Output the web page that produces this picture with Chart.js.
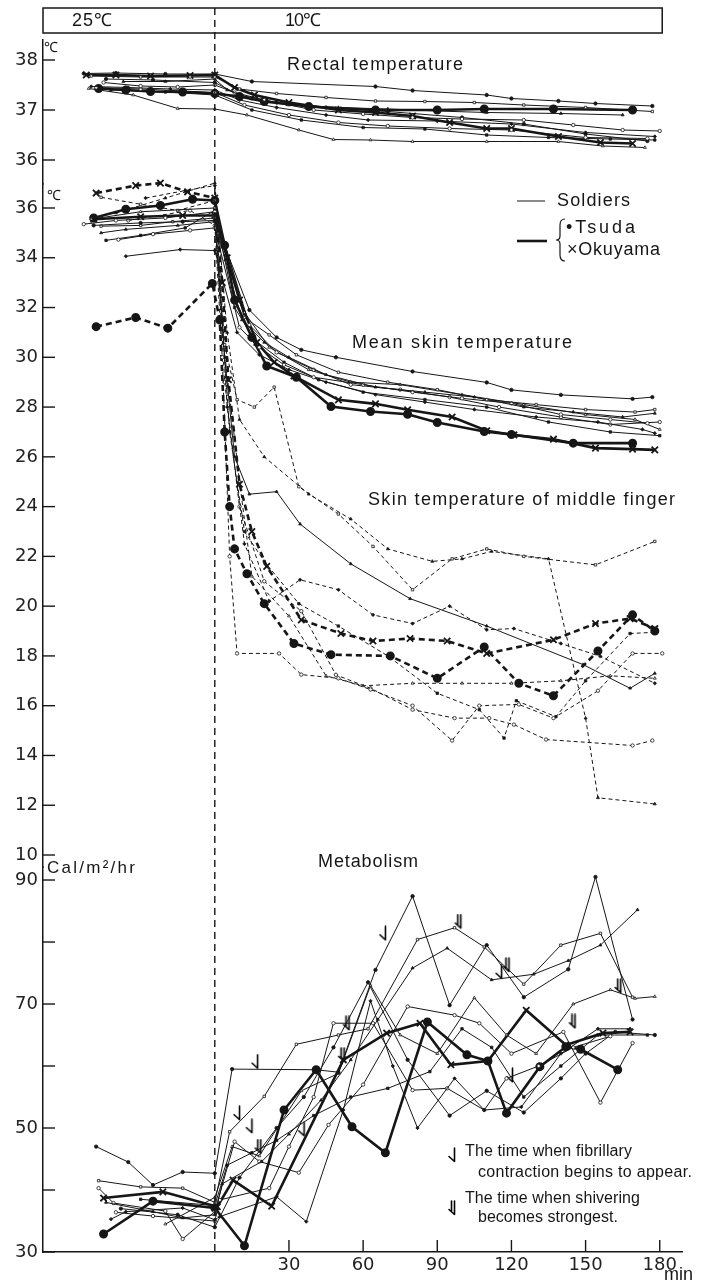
<!DOCTYPE html>
<html>
<head>
<meta charset="utf-8">
<script src="https://cdn.jsdelivr.net/npm/chart.js@4.4.1/dist/chart.umd.min.js"></script>
<style>
  html, body { margin: 0; padding: 0; background: #fff; }
  #wrap { width: 703px; height: 1284px; }
</style>
</head>
<body>
<div id="wrap"><canvas id="chart" width="703" height="1284"></canvas></div>
<script>
// x range in minutes, 0 = move from 25°C to 10°C room
var X_MIN = -69.5, X_MAX = 189;
var BOX_END = 181;

// tick values
var xTicks = [30, 60, 90, 120, 150, 180];
var rectalTicks = [36, 37, 38];
var skinTicks = [10, 12, 14, 16, 18, 20, 22, 24, 26, 28, 30, 32, 34, 36];
var metabTicks = [30, 40, 50, 60, 70, 80, 90];
var metabLabelled = [30, 50, 70, 90];

// ---- rectal temperature [min, °C]
var rectalTsuda = [[-47,37.43],[-36,37.40],[-26,37.37],[-13,37.36],[0,37.33],[10,37.27],[20,37.17],[38,37.07],[65,37.0],[90,37.0],[109,37.02],[137,37.02],[169,37.0]];
var rectalOkuyama = [[-52,37.70],[-40,37.70],[-26,37.68],[-10,37.69],[0,37.70],[8,37.45],[16,37.30],[30,37.15],[50,37.0],[65,36.95],[80,36.88],[95,36.75],[110,36.63],[120,36.63],[139,36.47],[156,36.35],[169,36.33]];
var rectalSoldiers = [
  [[-53,37.73],[-40,37.74],[-20,37.72],[0,37.72],[15,37.57],[65,37.47],[80,37.39],[110,37.30],[120,37.23],[139,37.18],[154,37.13],[177,37.08]],
  [[-50,37.68],[-30,37.66],[-10,37.66],[0,37.66],[10,37.42],[25,37.33],[45,37.25],[65,37.18],[85,37.17],[105,37.15],[125,37.10],[150,37.05],[177,36.97]],
  [[-37,37.57],[-20,37.57],[0,37.62],[5,37.40],[15,37.22],[30,37.10],[50,37.05],[70,37.02],[90,36.98],[110,36.95],[140,36.93],[165,36.90]],
  [[-45,37.55],[-30,37.48],[-15,37.46],[0,37.50],[8,37.35],[20,37.20],[40,37.00],[60,36.92],[80,36.85],[100,36.82],[125,36.80],[145,36.70],[165,36.60],[180,36.58]],
  [[-50,37.47],[-35,37.45],[-18,37.42],[0,37.40],[10,37.20],[25,37.05],[45,36.90],[62,36.80],[90,36.78],[120,36.72],[150,36.55],[178,36.47]],
  [[-48,37.45],[-30,37.42],[0,37.35],[12,37.10],[30,36.90],[50,36.75],[70,36.68],[95,36.63],[120,36.60],[150,36.45],[175,36.43]],
  [[-42,37.40],[-20,37.36],[0,37.30],[15,37.00],[35,36.80],[60,36.65],[85,36.62],[110,36.50],[135,36.45],[160,36.42],[178,36.40]],
  [[-51,37.43],[-33,37.30],[-15,37.03],[0,37.02],[13,36.90],[34,36.60],[48,36.41],[63,36.40],[80,36.37],[110,36.37],[139,36.37],[157,36.28],[174,36.25]],
  [[-44,37.62],[-25,37.60],[0,37.55],[10,37.30],[25,37.15],[45,37.05],[70,36.97],[100,36.85],[125,36.72],[150,36.52],[175,36.38]]
];

// ---- mean skin temperature [min, °C]
var skinTsuda = [[-49,35.6],[-36,35.95],[-22,36.1],[-9,36.35],[0,36.3],[4,34.5],[8,32.3],[15,30.8],[21,29.65],[33,29.2],[47,28.02],[63,27.82],[78,27.71],[90,27.38],[109,27.02],[120,26.9],[145,26.55],[169,26.55]];
var skinOkuyama = [[-49,35.55],[-30,35.65],[-13,35.7],[0,35.7],[5,34.0],[10,32.3],[17,30.6],[24,29.8],[32,29.25],[50,28.29],[65,28.13],[78,27.89],[96,27.6],[110,27.05],[121,26.88],[137,26.71],[154,26.35],[169,26.31],[178,26.28]];
var skinSoldiers = [
  [[-49,35.3],[-30,35.4],[-13,35.45],[0,35.5],[14,31.9],[25,30.8],[35,30.3],[49,30.0],[80,29.43],[110,28.99],[120,28.69],[140,28.49],[169,28.33],[177,28.4]],
  [[-46,35.27],[-30,35.3],[-17,35.45],[0,35.6],[12,31.6],[22,30.9],[33,30.1],[50,29.4],[70,29.0],[90,28.7],[110,28.3],[130,28.1],[150,27.9],[170,27.8],[178,27.9]],
  [[-46,35.0],[-36,35.14],[-15,35.3],[0,35.45],[11,31.5],[20,30.6],[30,30.0],[45,29.3],[65,28.8],[85,28.6],[105,28.4],[125,28.0],[145,27.8],[165,27.6],[178,27.75]],
  [[-39,34.73],[-25,34.95],[-10,35.1],[0,35.2],[10,31.2],[18,30.4],[28,29.7],[40,29.2],[60,28.9],[80,28.6],[100,28.35],[120,28.15],[140,27.7],[160,27.5],[175,27.35]],
  [[-36,34.06],[-14,34.33],[0,34.29],[9,31.0],[18,30.1],[30,29.5],[45,29.0],[65,28.5],[85,28.2],[105,27.9],[130,27.6],[155,27.4],[173,27.1],[178,26.95]],
  [[-53,35.35],[-40,35.5],[-20,35.6],[0,35.85],[14,31.3],[25,30.2],[40,29.5],[55,28.9],[75,28.7],[95,28.4],[115,28.0],[140,27.6],[160,27.3],[180,27.4]],
  [[-44,34.7],[-30,34.9],[-12,35.2],[0,35.9],[8,32.0],[16,30.7],[28,29.8],[42,29.1],[60,28.6],[85,28.3],[110,28.0],[135,27.4],[160,27.0],[180,26.85]],
  [[-50,35.55],[-30,35.85],[0,36.0],[12,31.8],[22,30.4],[38,29.5],[55,29.0],[75,28.9],[100,28.5],[125,28.1],[150,27.7],[170,27.5],[180,27.1]]
];

// ---- skin temperature of middle finger [min, °C]
var fingerTsuda = [[-48,31.23],[-32,31.6],[-19,31.17],[-1,32.97],[2,31.5],[4,27],[6,24],[8,22.3],[13,21.3],[20,20.1],[32,18.5],[47,18.05],[71,18.0],[90,17.1],[109,18.36],[123,16.9],[137,16.4],[155,18.2],[169,19.65],[178,19.0]];
var fingerOkuyama = [[-48,36.6],[-32,36.9],[-22,37.0],[-11,36.65],[0,36.4],[3,33],[5.5,29.1],[10,24.9],[15,23],[21,21.6],[35,19.45],[51,18.9],[64,18.6],[79,18.7],[94,18.6],[110,18.1],[137,18.65],[154,19.3],[168,19.5],[178,19.1]];
var fingerSoldiers = [
  [[-46,36.43],[-30,36.15],[-15,35.9],[0,36.3],[4,30.5],[9,28.3],[16,28.0],[24,28.8],[34,24.8],[50,23.7],[64,22.4],[80,20.66],[96,21.9],[110,22.3],[125,22.0],[154,21.66],[178,22.6]],
  [[-40,35.8],[-20,36.4],[0,37.0],[5,31],[10,27.5],[20,26.0],[38,24.5],[55,23.5],[70,22.3],[88,21.8],[100,21.9],[112,22.2],[135,21.9],[150,15.5],[155,12.3],[178,12.05]],
  [[-35,35.5],[-10,35.9],[0,35.3],[3,30],[6,22],[9,18.1],[26,18.1],[35,17.25],[50,17.1],[63,16.65],[80,16.0],[96,14.6],[107,16.0],[123,16.05],[137,15.5],[155,16.6],[169,18.1],[181,18.1]],
  [[-28,36.4],[-12,36.7],[0,36.9],[5,28],[12,22.5],[22,20.2],[34.5,21.06],[50,20.66],[64,19.65],[80,19.3],[95,20.0],[110,19.05],[121,19.1],[140,18.5],[156,17.98],[178,16.9]],
  [[0,36.0],[4,29],[10,24],[20,21],[35,19.8],[49,17.24],[63,16.7],[80,15.84],[97,15.5],[111,15.5],[121,15.24],[134,14.64],[169,14.4],[177,14.6]],
  [[0,35.9],[6,27],[12,23],[20,21.8],[34,20.1],[50,19.2],[70,18.0],[90,16.5],[107,15.84],[117,14.7],[122,16.2],[138,15.56],[150,17.0],[168,18.9],[178,18.95]],
  [[0,35.7],[3,31],[10,25],[15,21.2],[30,19.6],[45,17.2],[60,16.8],[80,16.9],[100,16.9],[120,16.9],[140,17.0],[160,17.2],[178,17.1]]
];
// one soldier drawn with a thin solid line in the finger panel
var fingerSolid = [[0,35.5],[4,30],[8,26],[14,24.5],[25,24.6],[34.5,23.3],[55,21.7],[79,20.3],[110,19.2],[149,17.65],[168,16.7],[178,17.3]];

// ---- metabolism [min, Cal/m2/hr]
var metTsuda = [[-45,32.9],[-25,38.2],[0,37.1],[12,31.0],[28,52.9],[41,59.4],[55.5,50.2],[69,46.0],[86,67.1],[102,61.8],[110.5,60.8],[118,52.4],[131.5,59.9],[142,63.1],[148,62.7],[163,59.4]];
var metOkuyama = [[-45,38.7],[-21,39.7],[1,37.3],[7.4,41.6],[23,37.4],[52,61.0],[69.5,65.3],[83,66.9],[95.5,60.2],[110.5,60.8],[126,69.0],[142,63.4],[157,65.3],[168,65.5]];
var metSoldiers = [
  [[-48,47.0],[-35,44.5],[-25,40.8],[-13,42.9],[0,42.7],[7,59.5],[41,59.4],[50,59.0],[65,75.5],[80,87.4],[95,69.8],[110,79.5],[125,71.1],[143,75.6],[154,90.5],[169,67.5]],
  [[-47,41.5],[-30,40.5],[-13,40.3],[0,38.0],[6,49.4],[20,55.1],[33,63.5],[50,65.0],[62,66.0],[82,80.4],[97,82.3],[109,79.2],[125,73.2],[140,79.5],[156,81.4],[169,71.1]],
  [[-44,38.0],[-25,36.5],[-13,35.5],[0,36.0],[3,41.0],[19,44.6],[30,49.0],[43,54.5],[55,61.0],[66,67.5],[80,75.8],[94,79.0],[112,73.9],[129,74.8],[143,77.0],[156,79.5],[171,85.2]],
  [[-47,40.3],[-41,37.9],[-20,36.6],[-13,32.1],[0,36.5],[8,47.8],[18,44.6],[34,42.8],[46,50.5],[60,57.0],[78,69.6],[97,68.2],[107,66.9],[120,62.0],[141,65.5],[156,54.1],[169,63.7]],
  [[-42,35.3],[-36,36.5],[-13,37.1],[0,35.2],[2,35.7],[25,38.9],[37,34.9],[52,52.9],[63,70.5],[72,60.0],[82,50.0],[97,58.0],[109,52.9],[124,53.4],[140,62.0],[155,66.0],[168,66.0]],
  [[-40,36.4],[-25,35.8],[0,35.0],[2,38.4],[22,40.3],[30,47.0],[40,55.0],[48,66.9],[64,66.9],[80,56.1],[94,56.4],[109,52.9],[118,58.0],[131,60.0],[145,63.0],[160,64.8]],
  [[-30,38.5],[0,37.5],[5,44.0],[15,46.0],[25,48.0],[40,52.0],[55,55.0],[70,56.4],[87,59.1],[100,66.0],[112,63.0],[125,55.0],[140,60.0],[155,65.0],[175,65.0]],
  [[-20,34.5],[0,38.8],[7,47.0],[18,45.5],[35,56.0],[50,58.8],[63,73.0],[75,65.0],[90,62.0],[105,71.0],[118,65.0],[130,62.0],[145,70.0],[160,72.3],[170,70.9],[178,71.2]],
  [[-38,37.0],[-15,36.0],[0,34.0],[10,42.0],[25,50.0],[36,55.0],[48,63.0],[62,73.5],[78,61.0],[95,52.0],[110,56.0],[125,52.5],[140,58.0],[150,62.0],[162,65.5],[178,65.0]]
];
// arrow marks on the metabolism curves
var fibrillaryMarks = [[9,52.4],[14,50.3],[16.3,60.7],[35.1,49.8],[68,81.4],[115,75.2],[119.4,58.5]];
var shiverMarks = [[17.6,47.0],[51.3,61.8],[53.3,66.9],[98.5,83.3],[118,76.3],[144.7,67.2],[163.2,72.9]];

var INK = '#161616';
var TICK_FONT = { family: '"DejaVu Sans"', size: 18 };
var TEXT_FAMILY = '"Liberation Sans", Arial, sans-serif';
var POINT_STYLES = ['circle', 'rect', 'triangle', 'circle', 'rectRot'];

/* small glyph used for the arrow marks: a stem with a hook at the bottom */
function arrowGlyph(isDouble) {
    var c = document.createElement('canvas');
    c.width = 10;
    c.height = 16;
    var g = c.getContext('2d');
    g.strokeStyle = '#000';
    g.lineWidth = 1.6;
    g.lineCap = 'round';
    g.beginPath();
    g.moveTo(7.5, 1);
    g.lineTo(7.5, 14.5);
    if (isDouble) {
        g.moveTo(4.5, 1);
        g.lineTo(4.5, 11);
    }
    g.moveTo(7.5, 14.5);
    g.lineTo(2, 9.5);
    g.stroke();
    return c;
}
var singleArrow = arrowGlyph(false);
var doubleArrow = arrowGlyph(true);

function soldierSet(data, axis, i, dash) {
    return {
        data: data,
        yAxisID: axis,
        borderColor: INK,
        borderWidth: 1,
        borderDash: dash || [],
        pointStyle: POINT_STYLES[i % POINT_STYLES.length],
        pointRadius: 1.7,
        pointBorderWidth: 0.8,
        pointBorderColor: INK,
        pointBackgroundColor: i % 2 ? '#fff' : INK
    };
}
function tsudaSet(data, axis, dash) {
    return {
        data: data, yAxisID: axis, borderColor: INK, borderWidth: 2.6, borderDash: dash || [],
        pointStyle: 'circle', pointRadius: 3.2, pointBackgroundColor: INK, pointBorderColor: INK
    };
}
function okuyamaSet(data, axis, dash) {
    return {
        data: data, yAxisID: axis, borderColor: INK, borderWidth: 2.6, borderDash: dash || [],
        pointStyle: 'crossRot', pointRadius: 4.5, pointBorderWidth: 1.8, pointBorderColor: INK
    };
}
function markSet(data, glyph) {
    return { data: data, yAxisID: 'yMet', showLine: false, pointStyle: glyph, pointRadius: 8 };
}

var datasets = [];
rectalSoldiers.forEach(function(d, i) { datasets.push(soldierSet(d, 'yRect', i)); });
skinSoldiers.forEach(function(d, i) { datasets.push(soldierSet(d, 'ySkin', i)); });
fingerSoldiers.forEach(function(d, i) { datasets.push(soldierSet(d, 'ySkin', i + 1, [4, 3])); });
datasets.push(soldierSet(fingerSolid, 'ySkin', 2));
metSoldiers.forEach(function(d, i) { datasets.push(soldierSet(d, 'yMet', i)); });
datasets.push(tsudaSet(rectalTsuda, 'yRect'));
datasets.push(okuyamaSet(rectalOkuyama, 'yRect'));
datasets.push(tsudaSet(skinTsuda, 'ySkin'));
datasets.push(okuyamaSet(skinOkuyama, 'ySkin'));
datasets.push(tsudaSet(fingerTsuda, 'ySkin', [6, 4]));
datasets.push(okuyamaSet(fingerOkuyama, 'ySkin', [6, 4]));
datasets.push(tsudaSet(metTsuda, 'yMet'));
datasets.push(okuyamaSet(metOkuyama, 'yMet'));
datasets.push(markSet(fibrillaryMarks, singleArrow));
datasets.push(markSet(shiverMarks, doubleArrow));

function yAxis(ticks, weight, min, max, labelled) {
    return {
        type: 'linear',
        position: 'left',
        stack: 'panels',
        stackWeight: weight,
        min: min,
        max: max,
        afterBuildTicks: function(s) { s.ticks = ticks.map(function(v) { return { value: v }; }); },
        afterFit: function(s) { s.width = 43; },
        grid: { display: false, drawTicks: false },
        border: { display: true, color: INK, width: 1.5 },
        ticks: {
            autoSkip: false,
            padding: 5,
            color: '#222',
            font: TICK_FONT,
            callback: function(v) { return (!labelled || labelled.indexOf(v) >= 0) ? String(v) : ''; }
        }
    };
}

/* draw text stretched to the width it has in the figure */
function fitText(ctx, str, left, cy, width, size) {
    ctx.font = size + 'px ' + TEXT_FAMILY;
    ctx.letterSpacing = '0px';
    var w = ctx.measureText(str).width;
    var n = Array.from(str).length;
    if (width && n > 1) {
        ctx.letterSpacing = ((width - w) / (n - 1)).toFixed(2) + 'px';
    }
    ctx.fillText(str, left, cy);
    ctx.letterSpacing = '0px';
}

var figureDecor = {
    id: 'figureDecor',
    afterDraw: function(chart) {
        var ctx = chart.ctx;
        var area = chart.chartArea;
        var sx = chart.scales.x;
        ctx.save();
        ctx.strokeStyle = INK;
        ctx.fillStyle = INK;

        // tick marks pointing into the plot
        ctx.lineWidth = 1.4;
        ['yRect', 'ySkin', 'yMet'].forEach(function(id) {
            var s = chart.scales[id];
            s.ticks.forEach(function(t) {
                var y = s.getPixelForValue(t.value);
                ctx.beginPath();
                ctx.moveTo(area.left, y);
                ctx.lineTo(area.left + 12, y);
                ctx.stroke();
            });
        });
        sx.ticks.forEach(function(t) {
            var x = sx.getPixelForValue(t.value);
            ctx.beginPath();
            ctx.moveTo(x, area.bottom);
            ctx.lineTo(x, area.bottom - 12);
            ctx.stroke();
        });

        // condition box on top
        var x0 = sx.getPixelForValue(0);
        var boxRight = sx.getPixelForValue(BOX_END);
        ctx.lineWidth = 1.5;
        ctx.strokeRect(area.left, 8, boxRight - area.left, 25);

        // dashed line at the change of room temperature
        ctx.setLineDash([7, 5]);
        ctx.lineWidth = 1.4;
        ctx.beginPath();
        ctx.moveTo(x0, 8);
        ctx.lineTo(x0, area.bottom);
        ctx.stroke();
        ctx.setLineDash([]);

        // texts
        ctx.textBaseline = 'middle';
        ctx.textAlign = 'left';
        fitText(ctx, '25℃', 72, 21, 40, 18);
        fitText(ctx, '10℃', 285, 21, 36, 18);
        fitText(ctx, '℃', 44, 48, 0, 14);
        fitText(ctx, '℃', 47, 196, 0, 14);
        fitText(ctx, 'Cal/m²/hr', 47, 868, 88, 17);
        fitText(ctx, 'Rectal temperature', 287, 65, 176, 18);
        fitText(ctx, 'Mean skin temperature', 352, 343, 220, 18);
        fitText(ctx, 'Skin temperature of middle finger', 368, 500, 307, 18);
        fitText(ctx, 'Metabolism', 318, 862, 100, 18);
        fitText(ctx, 'min', 664, 1275, 29, 18);

        // legend
        ctx.lineWidth = 1;
        ctx.beginPath();
        ctx.moveTo(517, 201);
        ctx.lineTo(545, 201);
        ctx.stroke();
        ctx.lineWidth = 2.6;
        ctx.beginPath();
        ctx.moveTo(517, 241);
        ctx.lineTo(547, 241);
        ctx.stroke();
        ctx.lineWidth = 1.2;
        ctx.beginPath();
        ctx.moveTo(565, 219);
        ctx.quadraticCurveTo(560, 219, 560, 225);
        ctx.lineTo(560, 236);
        ctx.quadraticCurveTo(560, 240, 556, 240);
        ctx.quadraticCurveTo(560, 240, 560, 244);
        ctx.lineTo(560, 255);
        ctx.quadraticCurveTo(560, 261, 565, 261);
        ctx.stroke();
        fitText(ctx, 'Soldiers', 557, 201, 73, 18);
        fitText(ctx, '•Tsuda', 566, 228, 69, 18);
        fitText(ctx, '×Okuyama', 567, 250, 93, 18);

        // arrow legend
        ctx.drawImage(singleArrow, 447, 1147);
        ctx.drawImage(doubleArrow, 447, 1200);
        fitText(ctx, 'The time when fibrillary', 465, 1152, 167, 16);
        fitText(ctx, 'contraction begins to appear.', 478, 1173, 214, 16);
        fitText(ctx, 'The time when shivering', 465, 1199, 175, 16);
        fitText(ctx, 'becomes strongest.', 478, 1218, 140, 16);
        ctx.restore();
    }
};

var chart = new Chart(document.getElementById('chart'), {
    type: 'line',
    data: { datasets: datasets },
    options: {
        responsive: false,
        animation: false,
        devicePixelRatio: 1,
        layout: { padding: { top: 40, right: 21, left: 0, bottom: 0 } },
        datasets: { line: { tension: 0, clip: false, fill: false } },
        plugins: { legend: { display: false }, tooltip: { enabled: false }, title: { display: false } },
        scales: {
            x: {
                type: 'linear',
                position: 'bottom',
                min: X_MIN,
                max: X_MAX,
                afterBuildTicks: function(s) { s.ticks = xTicks.map(function(v) { return { value: v }; }); },
                afterFit: function(s) { s.height = 32; },
                grid: { display: false, drawTicks: false },
                border: { display: true, color: INK, width: 1.5 },
                ticks: { autoSkip: false, maxRotation: 0, padding: 3, color: '#222', font: TICK_FONT }
            },
            // order matters: the last stacked axis is placed on top
            yMet: yAxis(metabTicks, 385, 30, 92.1, metabLabelled),
            ySkin: yAxis(skinTicks, 683, 9.518, 36.964),
            yRect: yAxis(rectalTicks, 144, 35.52, 38.4)
        }
    },
    plugins: [figureDecor]
});
</script>
</body>
</html>
